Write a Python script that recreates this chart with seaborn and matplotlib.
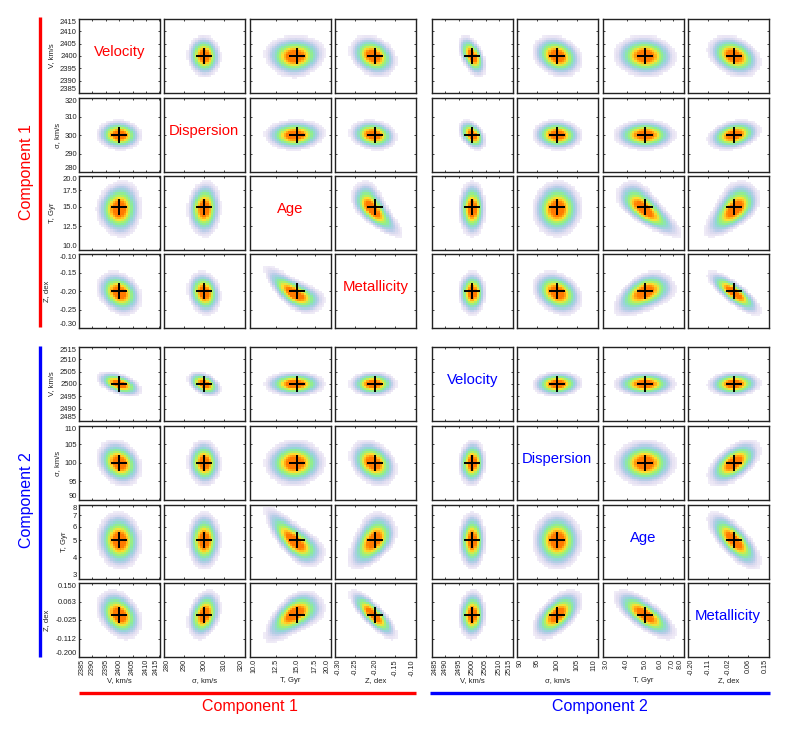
import numpy as np
import matplotlib
matplotlib.use('Agg')
import matplotlib.pyplot as plt
from matplotlib.colors import LinearSegmentedColormap
from matplotlib.lines import Line2D
import seaborn as sns

# Parameters, in panel order
names = ['V, km/s', '\u03c3, km/s', 'T, Gyr', 'Z, dex'] * 2
titles = ['Velocity', 'Dispersion', 'Age', 'Metallicity'] * 2
low = [2385, 280, 10.0, -0.30, 2485, 90, 3.0, -0.20]
high = [2415, 320, 20.0, -0.10, 2515, 110, 8.0, 0.15]
is_log = [False, False, True, False, False, False, True, False]
truth = [2400, 300, 15.0, -0.20, 2500, 100, 5.0, 0.0]

x_ticks = [[2385, 2390, 2395, 2400, 2405, 2410, 2415], [280, 290, 300, 310, 320],
           [10, 12.5, 15, 17.5, 20], [-0.30, -0.25, -0.20, -0.15, -0.10],
           [2485, 2490, 2495, 2500, 2505, 2510, 2515], [90, 95, 100, 105, 110],
           [3, 4, 5, 6, 7, 8], [-0.20, -0.1125, -0.025, 0.0625, 0.15]]
x_labels = [['2385', '2390', '2395', '2400', '2405', '2410', '2415'], ['280', '290', '300', '310', '320'],
            ['10.0', '12.5', '15.0', '17.5', '20.0'], ['-0.30', '-0.25', '-0.20', '-0.15', '-0.10'],
            ['2485', '2490', '2495', '2500', '2505', '2510', '2515'], ['90', '95', '100', '105', '110'],
            ['3.0', '4.0', '5.0', '6.0', '7.0', '8.0'], ['-0.20', '-0.11', '-0.02', '0.06', '0.15']]
y_labels = [x_labels[0], x_labels[1], x_labels[2], x_labels[3], x_labels[4], x_labels[5],
            ['3', '4', '5', '6', '7', '8'], ['-0.200', '-0.112', '-0.025', '0.063', '0.150']]

# Blob shapes estimated by eye from the reference: the cell values themselves
# could not be read, so cells are rebuilt from these per-panel estimates.
# log10 units for the two ages
peak = [2400, 300, 14.7, -0.205, 2500, 100, 5.0, 0.0]
spread = [3.0, 3.0, 0.040, 0.021, 1.85, 2.2, 0.058, 0.041]
corr = [
    [1.00, -0.05, 0.03, -0.25, -0.50, -0.22, -0.05, -0.30],
    [-0.05, 1.00, 0.05, -0.15, -0.40, -0.05, 0.00, 0.28],
    [0.03, 0.05, 1.00, -0.68, 0.00, 0.02, -0.72, 0.55],
    [-0.25, -0.15, -0.68, 1.00, 0.00, -0.28, 0.45, -0.80],
    [-0.50, -0.40, 0.00, 0.00, 1.00, 0.05, 0.00, 0.05],
    [-0.22, -0.05, 0.02, -0.28, 0.05, 1.00, 0.00, 0.55],
    [-0.05, 0.00, -0.72, 0.45, 0.00, 0.00, 1.00, -0.72],
    [-0.30, 0.28, 0.55, -0.80, 0.05, 0.55, -0.72, 1.00],
]
bend = {(2, 3): 0.15, (2, 6): 0.12, (2, 7): -0.12, (6, 3): -0.10, (2, 0): 0.05, (2, 1): 0.03}

col_left = [79, 164, 250, 335, 432, 517, 603, 688]
row_top = [19, 98, 176, 254, 347, 426, 505, 583]
ylabel_px = [52, 58, 52, 47, 52, 58, 64, 47]
level_pos = [0.0, 0.04, 0.09, 0.17, 0.27, 0.40, 0.52, 0.64, 0.76, 1.0]
level_col = ['#F8F5FB', '#E3DEF1', '#B9CCE8', '#92D6D6', '#8CEC96', '#B4F060', '#FFE030', '#FFB018', '#FF7A00', '#FF7A00']

W, H = 789, 730
N_BINS = 36
cmap = LinearSegmentedColormap.from_list('blob', list(zip(level_pos, level_col)))

sns.set_theme(style='white')
plt.rcParams['font.family'] = ['Liberation Sans', 'DejaVu Sans']


def axis_pos(i, value):
    return np.log10(value) if is_log[i] else value


def density(c, r):
    xe = np.linspace(axis_pos(c, low[c]), axis_pos(c, high[c]), N_BINS + 1)
    ye = np.linspace(axis_pos(r, low[r]), axis_pos(r, high[r]), N_BINS + 1)
    xc = (xe[:-1] + xe[1:]) / 2
    yc = (ye[:-1] + ye[1:]) / 2
    gx, gy = np.meshgrid(xc, yc)
    zx = (gx - axis_pos(c, peak[c])) / spread[c]
    zy = (gy - axis_pos(r, peak[r])) / spread[r]
    rho = corr[r][c]
    if (r, c) in bend:
        u, v, b = zy, zx, bend[(r, c)]
    else:
        u, v, b = zx, zy, bend.get((c, r), 0)
    d = np.exp(-u**2 / 2 - (v - rho * u - b * (u**2 - 1))**2 / (2 * (1 - rho**2)))
    d = d / d.max()
    return gx, gy, d


fig = plt.figure(figsize=(W / 100, H / 100), dpi=100)

for r in range(8):
    for c in range(8):
        ax = fig.add_axes([col_left[c] / W, 1 - (row_top[r] + 74) / H, 80.5 / W, 74 / H])
        if r != c:
            gx, gy, d = density(c, r)
            sns.histplot(x=(10**gx if is_log[c] else gx).ravel(), y=(10**gy if is_log[r] else gy).ravel(),
                         weights=d.ravel(), bins=N_BINS,
                         binrange=((axis_pos(c, low[c]), axis_pos(c, high[c])), (axis_pos(r, low[r]), axis_pos(r, high[r]))),
                         log_scale=(is_log[c], is_log[r]), cmap=cmap, vmin=0, vmax=1, thresh=0.016, ax=ax)
            sns.scatterplot(x=[truth[c]], y=[truth[r]], marker='+', s=130, color='black', linewidth=1.4, zorder=5, ax=ax)
        else:
            if is_log[c]:
                ax.set_xscale('log')
                ax.set_yscale('log')
            ax.text(0.5, 0.56, titles[c], transform=ax.transAxes, ha='center', va='center',
                    fontsize=10.7, color='red' if c < 4 else 'blue')

        ax.set_xlim(low[c], high[c])
        ax.set_ylim(low[r], high[r])
        ax.set_xticks(x_ticks[c])
        ax.set_yticks(x_ticks[r])
        ax.minorticks_off()
        ax.set_xticklabels(x_labels[c] if r == 7 else [])
        ax.set_yticklabels(y_labels[r] if c == 0 else [])
        ax.tick_params(direction='in', length=1.5, width=0.6, top=True, right=True, bottom=True, left=True,
                       labelsize=5.5, pad=1.5, color='#222222', labelcolor='#222222')
        ax.tick_params(axis='x', labelrotation=90, labelsize=5.2)
        # end labels stay inside the panel edge, as in the original
        if r == 7:
            ax.get_xticklabels()[0].set_ha('left')
            ax.get_xticklabels()[-1].set_ha('right')
        if c == 0:
            ax.get_yticklabels()[0].set_va('bottom')
            ax.get_yticklabels()[-1].set_va('top')
        for s in ax.spines.values():
            s.set_visible(True)
            s.set_linewidth(1.0)
            s.set_color('#222222')
        ax.set_xlabel(names[c] if r == 7 else '', fontsize=5.5, color='#222222')
        ax.set_ylabel(names[r] if c == 0 else '', fontsize=5.5, color='#222222')
        ax.xaxis.set_label_coords(0.5, -0.27)
        ax.yaxis.set_label_coords((ylabel_px[r] + 3.5 - col_left[0]) / 80.5, 0.5)


def bar(x0, y0, x1, y1, color):
    fig.add_artist(Line2D([x0 / W, x1 / W], [1 - y0 / H, 1 - y1 / H], color=color, lw=2.4, solid_capstyle='butt'))


bar(39.5, 17, 39.5, 327, 'red')
bar(39.5, 346, 39.5, 657, 'blue')
bar(79, 693, 416, 693, 'red')
bar(430, 693, 770, 693, 'blue')

fig.text(26 / W, 1 - 172 / H, 'Component 1', rotation=90, color='red', fontsize=11.5, ha='center', va='center')
fig.text(26 / W, 1 - 500 / H, 'Component 2', rotation=90, color='blue', fontsize=11.5, ha='center', va='center')
fig.text(250 / W, 1 - 706 / H, 'Component 1', color='red', fontsize=11.5, ha='center', va='center')
fig.text(600 / W, 1 - 706 / H, 'Component 2', color='blue', fontsize=11.5, ha='center', va='center')

fig.savefig('out.png', dpi=100)
